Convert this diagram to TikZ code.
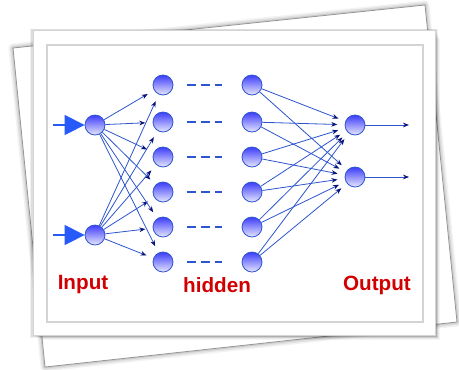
\documentclass[tikz,border=0pt]{standalone}
\usepackage{fontspec}
\newfontfamily\labfont{Liberation Sans}
\usetikzlibrary{arrows.meta}
\definecolor{netblue}{RGB}{45,85,205}
\definecolor{tipblue}{RGB}{10,20,120}
\definecolor{triblue}{RGB}{40,90,250}
\definecolor{labred}{RGB}{210,0,0}
\definecolor{nodetop}{RGB}{60,60,250}
\definecolor{nodebot}{RGB}{232,232,255}
\definecolor{paperedge}{RGB}{150,150,150}
\definecolor{frameline}{RGB}{212,212,212}
\begin{document}
\begin{tikzpicture}[x=0.75pt,y=-0.75pt,
  neuron/.style={circle,minimum size=15pt,inner sep=0pt,draw=netblue,line width=0.6pt,top color=nodetop,bottom color=nodebot},
  link/.style={draw=netblue,line width=0.6pt,-{Stealth[length=4.5pt,width=3.5pt,color=tipblue]},shorten >=5.5pt},
  outlink/.style={draw=netblue,line width=0.7pt,-{Stealth[length=4.5pt,width=3.5pt,color=tipblue]}},
  inlink/.style={draw=triblue,line width=1pt,-{Triangle[length=15pt,width=15pt,color=triblue]}},
  gap/.style={draw=netblue,line width=1.3pt,dash pattern=on 7pt off 3.5pt,shorten <=10pt,shorten >=15pt},
  lab/.style={text=labred,font=\labfont\bfseries\fontsize{15.5}{18}\selectfont,inner sep=0pt}]
\useasboundingbox (0,0) rectangle (459,369);
% back sheet with shadow
\foreach \w/\o in {9/0.05,6/0.07,3/0.09}{
  \draw[line width=\w*0.75pt,black,opacity=\o,line join=round] (13,48) -- (425,5) -- (457,322) -- (45,367) -- cycle;
}
\draw[fill=white,draw=paperedge,line width=0.6pt] (13,48) -- (425,5) -- (457,322) -- (45,367) -- cycle;
% front sheet shadow
\foreach \d/\o in {9/0.04,7/0.05,5/0.06,3/0.08}{
  \fill[black,opacity=\o] (33+\d,30+\d) rectangle (435+\d*0.6,335+\d*0.6);
}
\foreach \d/\o in {3/0.06,2/0.08}{
  \fill[black,opacity=\o] (33-\d,30-\d*0.5) rectangle (435+\d,335+\d);
}
\draw[fill=white,draw=frameline,line width=0.6pt] (33,30) rectangle (435,335);
\draw[draw=frameline,line width=0.8pt] (47,45) rectangle (423,322);
% neurons
\node[neuron] (i1) at (95,125) {};
\node[neuron] (i2) at (95,235) {};
\foreach \n/\y in {1/85,2/122,3/157,4/192,5/227,6/262}{
  \node[neuron] (a\n) at (163,\y) {};
  \node[neuron] (b\n) at (252,\y) {};
}
\node[neuron] (o1) at (355,125) {};
\node[neuron] (o2) at (355,177) {};
% input arrows
\coordinate (s1) at (53,125);
\coordinate (s2) at (53,235);
\draw[inlink] (s1) -- (i1);
\draw[inlink] (s2) -- (i2);
% input to hidden
\foreach \n in {1,...,6}{
  \draw[link] (i1) -- (a\n);
  \draw[link] (i2) -- (a\n);
}
% hidden gap dashes
\foreach \n in {1,...,6}{
  \draw[gap] (a\n) -- (b\n);
}
% hidden to output
\foreach \n in {1,...,6}{
  \draw[link] (b\n) -- (o1);
  \draw[link] (b\n) -- (o2);
}
% outputs
\coordinate (e1) at (409,125);
\coordinate (e2) at (409,177);
\draw[outlink] (o1) -- (e1);
\draw[outlink] (o2) -- (e2);
% labels
\node[lab] (tin) at (83,285) {Input};
\node[lab] (thid) at (217,285) {hidden};
\node[lab] (tout) at (377,285) {Output};
\end{tikzpicture}
\end{document}
